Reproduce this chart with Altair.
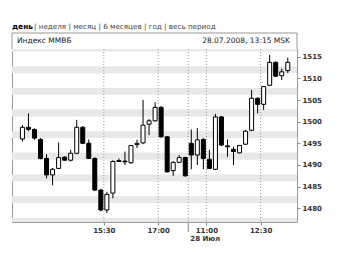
import altair as alt
import pandas as pd

# ---- data: 10-minute candles of the MICEX index (25 Jul, then 28 Jul 2008) ----
day1_times = ["13:10", "13:20", "13:30", "13:40", "13:50", "14:00", "14:10",
              "14:20", "14:30", "14:40", "14:50", "15:00", "15:10", "15:20",
              "15:30", "15:40", "15:50", "16:00", "16:10", "16:20", "16:30",
              "16:40", "16:50", "17:00", "17:10", "17:20", "17:30", "17:40"]
day2_times = ["10:30", "10:40", "10:50", "11:00", "11:10", "11:20", "11:30",
              "11:40", "11:50", "12:00", "12:10", "12:20", "12:30", "12:40",
              "12:50", "13:00", "13:10"]

opens = [1496.0, 1498.7, 1498.2, 1495.9, 1491.5, 1487.7, 1489.2, 1491.8, 1491.1,
         1492.7, 1498.7, 1495.0, 1491.5, 1484.2, 1479.6, 1483.5, 1491.0, 1490.9,
         1490.5, 1494.7, 1495.1, 1499.4, 1500.2, 1503.3, 1496.5, 1488.7, 1490.6,
         1491.7,
         1495.0, 1492.3, 1495.9, 1491.3, 1489.0, 1501.1, 1494.4, 1493.6, 1492.8,
         1494.8, 1498.0, 1505.4, 1504.0, 1508.4, 1513.7, 1510.6, 1511.8]
highs = [1499.2, 1501.9, 1498.5, 1496.2, 1492.5, 1489.3, 1495.2, 1492.0, 1493.5,
         1500.4, 1499.0, 1495.9, 1491.8, 1484.5, 1483.8, 1491.1, 1491.5, 1493.1,
         1494.6, 1495.8, 1505.0, 1500.6, 1504.5, 1503.6, 1496.7, 1490.9, 1492.3,
         1491.9,
         1498.2, 1498.5, 1496.2, 1493.5, 1501.8, 1501.3, 1495.9, 1494.2, 1494.6,
         1498.1, 1507.3, 1505.6, 1508.2, 1515.4, 1513.9, 1512.3, 1514.8]
lows = [1495.4, 1497.8, 1495.8, 1491.3, 1486.9, 1485.3, 1489.1, 1491.0, 1490.8,
        1492.5, 1494.8, 1491.4, 1484.0, 1479.3, 1478.9, 1482.3, 1490.7, 1490.0,
        1490.3, 1493.9, 1494.8, 1496.9, 1500.0, 1496.3, 1488.3, 1487.5, 1490.5,
        1487.3,
        1489.0, 1490.0, 1489.0, 1489.0, 1488.8, 1494.4, 1491.9, 1490.0, 1492.7,
        1494.6, 1497.8, 1501.9, 1502.7, 1508.2, 1510.4, 1509.6, 1511.2]
closes = [1498.7, 1498.2, 1496.2, 1491.5, 1487.7, 1489.0, 1491.7, 1491.1, 1492.7,
          1498.7, 1495.0, 1491.5, 1484.2, 1479.6, 1483.2, 1490.8, 1490.8, 1490.7,
          1494.5, 1495.0, 1499.2, 1500.2, 1503.3, 1496.5, 1488.4, 1490.6, 1491.7,
          1487.5,
          1492.3, 1495.8, 1491.5, 1489.2, 1501.1, 1494.6, 1494.2, 1493.1, 1494.5,
          1497.8, 1505.4, 1504.0, 1508.1, 1513.7, 1510.5, 1511.5, 1513.7]

tick_labels = ["15:30", "17:00", "11:00", "12:30"]
tick_days = [1, 1, 2, 2]
y_ticks = [1480, 1485, 1490, 1495, 1500, 1505, 1510, 1515]
band_centers = [1477, 1482, 1487, 1492, 1497, 1502, 1507, 1512, 1517]

tabs = ["день", "неделя", "месяц", "6 месяцев", "год", "весь период"]
title_left = "Индекс ММВБ"
title_right = "28.07.2008, 13:15 MSK"
day2_label = "28 Июл"

# ---- tables ----
times = day1_times + day2_times
candles = pd.DataFrame({
    "slot": list(range(len(times))),
    "time": times,
    "open": opens, "high": highs, "low": lows, "close": closes,
})
candles["up"] = candles["close"] >= candles["open"]

n1 = len(day1_times)
tick_slots = [day1_times.index(t) if d == 1 else n1 + day2_times.index(t)
              for t, d in zip(tick_labels, tick_days)]
label_expr = " : ".join(
    f"datum.value == {s} ? '{t}'" for s, t in zip(tick_slots, tick_labels)
) + " : ''"

grid_df = pd.DataFrame({"pos": tick_slots + [n1]})
sep_df = pd.DataFrame({"pos": [n1], "label": [day2_label]})
bands = pd.DataFrame({"lo": [c - 0.8 for c in band_centers],
                      "hi": [c + 0.8 for c in band_centers]})

W, H = 285, 173
FONT = "DejaVu Sans"
x_scale = alt.Scale(domain=[-0.4, 45.2], nice=False, zero=False)
y_scale = alt.Scale(domain=[1476.83, 1516.78], nice=False, zero=False)

# one axis definition per channel, shared by every layer
x_axis = alt.Axis(values=tick_slots, labelExpr=label_expr, grid=False,
                  domain=False, tickSize=3, tickColor="#888888",
                  labelFont=FONT, labelFontSize=7, labelFontWeight="bold",
                  labelColor="#333333", labelPadding=1, title=None)
y_axis = alt.Axis(orient="right", values=y_ticks, format="d", grid=False,
                  domain=False, tickSize=3, tickColor="#888888",
                  labelFont=FONT, labelFontSize=7, labelFontWeight="bold",
                  labelColor="#333333", labelPadding=2, title=None)

band_layer = alt.Chart(bands).mark_rect(color="#e8e8e8", clip=True).encode(
    x=alt.value(0), x2=alt.value(W),
    y=alt.Y("lo:Q", scale=y_scale, axis=y_axis), y2="hi:Q",
)

grid_layer = alt.Chart(grid_df).mark_rule(
    color="#9a9a9a", strokeWidth=1, strokeDash=[1, 2]
).encode(x=alt.X("pos:Q", scale=x_scale, axis=x_axis))

wicks = alt.Chart(candles).transform_calculate(
    center="datum.slot + 0.5"
).mark_rule(color="#000000", strokeWidth=1).encode(
    x=alt.X("center:Q", scale=x_scale, axis=x_axis),
    y=alt.Y("low:Q", scale=y_scale, axis=y_axis),
    y2="high:Q",
)

bodies = alt.Chart(candles).transform_calculate(
    center="datum.slot + 0.5"
).mark_bar(size=4, stroke="#000000", strokeWidth=1).encode(
    x=alt.X("center:Q", scale=x_scale, axis=x_axis),
    y=alt.Y("open:Q", scale=y_scale, axis=y_axis),
    y2="close:Q",
    fill=alt.condition("datum.up", alt.value("#ffffff"), alt.value("#000000")),
)

sep_tail = alt.Chart(sep_df).mark_rule(color="#888888").encode(
    x=alt.X("pos:Q", scale=x_scale, axis=x_axis),
    y=alt.value(H), y2=alt.value(H + 10),
)
sep_text = alt.Chart(sep_df).mark_text(
    align="left", baseline="middle", font=FONT, fontSize=7, fontWeight="bold",
    color="#333333", dx=2,
).encode(x=alt.X("pos:Q", scale=x_scale, axis=x_axis), y=alt.value(H + 17),
         text="label:N")

# header box above the plot
one = pd.DataFrame({"k": [0]})
box_top = alt.Chart(one).mark_rule(color="#999999").encode(
    x=alt.value(0), x2=alt.value(W), y=alt.value(-16))
box_left = alt.Chart(one).mark_rule(color="#999999").encode(
    x=alt.value(0), y=alt.value(-16), y2=alt.value(0))
box_right = alt.Chart(one).mark_rule(color="#999999").encode(
    x=alt.value(W), y=alt.value(-16), y2=alt.value(0))

head_left = alt.Chart(pd.DataFrame({"t": [title_left]})).mark_text(
    align="left", baseline="middle", font=FONT, fontSize=7.5, color="#222222"
).encode(x=alt.value(5), y=alt.value(-8), text="t:N")
head_right = alt.Chart(pd.DataFrame({"t": [title_right]})).mark_text(
    align="right", baseline="middle", font=FONT, fontSize=7.5, color="#222222"
).encode(x=alt.value(W - 7), y=alt.value(-8), text="t:N")

tab_first = alt.Chart(pd.DataFrame({"t": [tabs[0]]})).mark_text(
    align="left", baseline="middle", font=FONT, fontSize=7.5, fontWeight="bold",
    color="#000000"
).encode(x=alt.value(0), y=alt.value(-22), text="t:N")
tab_rest = alt.Chart(pd.DataFrame({"t": ["| " + " | ".join(tabs[1:])]})).mark_text(
    align="left", baseline="middle", font=FONT, fontSize=7.2, color="#444444"
).encode(x=alt.value(22), y=alt.value(-22), text="t:N")

chart = alt.layer(
    band_layer, grid_layer, wicks, bodies, sep_tail, sep_text,
    box_top, box_left, box_right, head_left, head_right, tab_first, tab_rest,
).properties(
    width=W, height=H,
    autosize=alt.AutoSizeParams(type="none"),
    padding={"left": 12, "top": 49, "right": 43, "bottom": 33},
    background="#ffffff",
).configure_view(stroke="#999999", strokeWidth=1)

chart.save("out.html", embed_options={"renderer": "svg", "actions": False})
